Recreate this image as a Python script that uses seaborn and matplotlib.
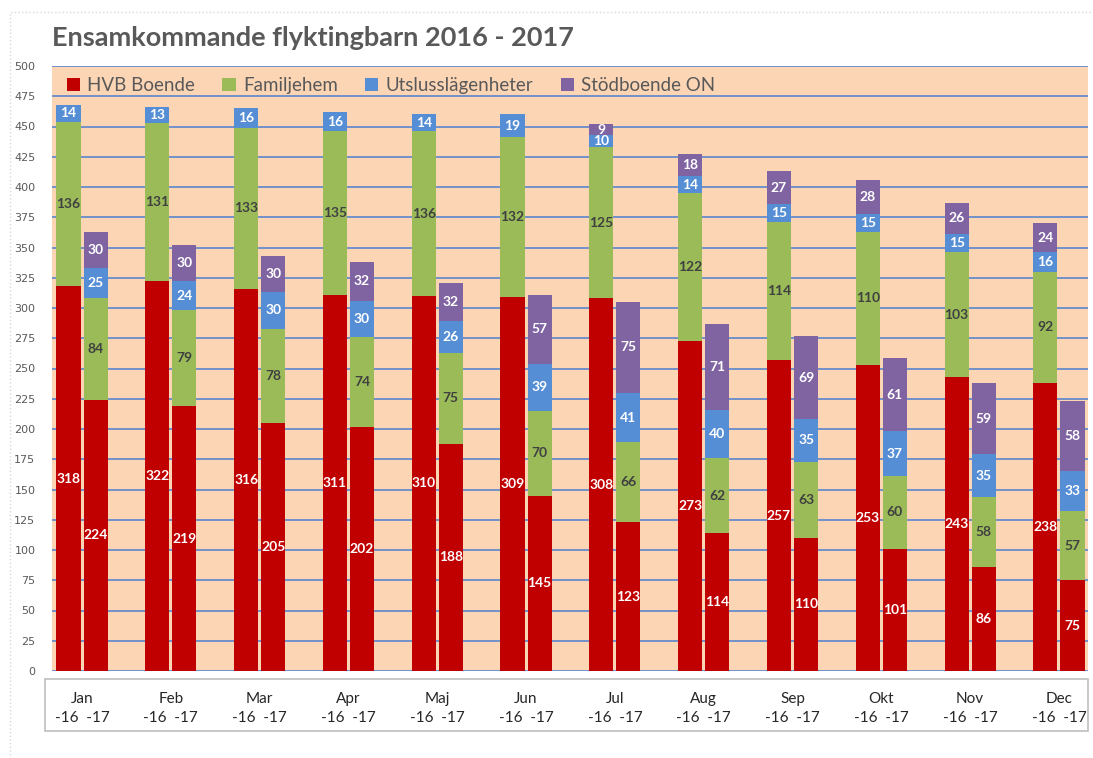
import numpy as np
import pandas as pd
import matplotlib
matplotlib.use("Agg")
import matplotlib.pyplot as plt
from matplotlib.patches import Patch, Rectangle
import seaborn as sns

# data
months = ["Jan", "Feb", "Mar", "Apr", "Maj", "Jun", "Jul", "Aug", "Sep", "Okt", "Nov", "Dec"]
years = ["-16", "-17"]
series = ["HVB Boende", "Familjehem", "Utslusslägenheter", "Stödboende ON"]

hvb_16 = [318, 322, 316, 311, 310, 309, 308, 273, 257, 253, 243, 238]
fam_16 = [136, 131, 133, 135, 136, 132, 125, 122, 114, 110, 103, 92]
uts_16 = [14, 13, 16, 16, 14, 19, 10, 14, 15, 15, 15, 16]
std_16 = [0, 0, 0, 0, 0, 0, 9, 18, 27, 28, 26, 24]

hvb_17 = [224, 219, 205, 202, 188, 145, 123, 114, 110, 101, 86, 75]
fam_17 = [84, 79, 78, 74, 75, 70, 66, 62, 63, 60, 58, 57]
uts_17 = [25, 24, 30, 30, 26, 39, 41, 40, 35, 37, 35, 33]
std_17 = [30, 30, 30, 32, 32, 57, 75, 71, 69, 61, 59, 58]

colors = ["#C00000", "#9BBB59", "#558ED5", "#8064A2"]
label_colors = ["white", "#404040", "white", "white"]

# long table
rows = []
for y, vals in zip(years, [[hvb_16, fam_16, uts_16, std_16], [hvb_17, fam_17, uts_17, std_17]]):
    for i, m in enumerate(months):
        row = {"month": m, "year": y}
        for s, v in zip(series, vals):
            row[s] = v[i]
        rows.append(row)
df = pd.DataFrame(rows)
cum = df[series].cumsum(axis=1)

fig = plt.figure(figsize=(10.93, 7.58), dpi=100)
ax = fig.add_axes([52 / 1093, 1 - 671 / 758, (1088 - 52) / 1093, (671 - 66) / 758])
ax.set_facecolor("#FCD5B5")

# stacked: draw cumulative totals from top layer down
for k in range(3, -1, -1):
    d = df[["month", "year"]].copy()
    d["v"] = cum[series[k]]
    sns.barplot(data=d, x="month", y="v", hue="year", order=months, hue_order=years,
                palette={y: colors[k] for y in years}, width=0.61, gap=0.11,
                legend=False, ax=ax, saturation=1, zorder=3)

# bar centres from the HVB layer containers
centres = {}
for j, y in enumerate(years):
    cont = ax.containers[-2 + j]
    centres[y] = [p.get_x() + p.get_width() / 2 for p in cont.patches]

for idx, r in df.iterrows():
    i = months.index(r["month"])
    x = centres[r["year"]][i]
    bottom = 0
    for k, s in enumerate(series):
        v = r[s]
        if v > 0:
            ax.text(x, bottom + v / 2, str(v), ha="center", va="center", fontsize=10,
                    fontweight="bold", color=label_colors[k], family="Lato", zorder=5)
        bottom += v

ax.set_ylim(0, 500)
ax.set_xlim(-0.338, 11.327)
ax.set_yticks(np.arange(0, 501, 25))
ax.yaxis.grid(True, color="#5B86CC", linewidth=1.2, zorder=1)
ax.set_axisbelow(True)
for sp in ax.spines.values():
    sp.set_visible(False)
ax.tick_params(axis="y", length=0, labelsize=8, labelcolor="#595959", pad=12)
ax.tick_params(axis="x", length=0, pad=15)
ax.set_xticks(range(len(months)))
ax.set_xticklabels([m + "\n-16  -17" for m in months], fontsize=11, color="#262626",
                   family="Lato", linespacing=1.45)
ax.set_xlabel("")
ax.set_ylabel("")

# legend
handles = [Patch(facecolor=c, edgecolor="none") for c in colors]
ax.legend(handles, series, loc="upper left", bbox_to_anchor=(-0.002, 1.01), ncol=4,
          frameon=False, handlelength=0.7, handleheight=0.7,
          handletextpad=0.4, columnspacing=1.45, labelcolor="#595959",
          prop={"family": "Lato", "size": 13.5})

# title
fig.text(52 / 1093, 1 - 38 / 758, "Ensamkommande flyktingbarn 2016 - 2017", fontsize=19.5,
         fontweight="bold", color="#595959", family="Lato", va="center", ha="left")

# borders
fig.patches.append(Rectangle((45 / 1093, 1 - 731 / 758), (1088 - 45) / 1093, 52 / 758,
                             transform=fig.transFigure, fill=False, edgecolor="#BFBFBF",
                             linewidth=1.2, zorder=0))
fig.patches.append(Rectangle((10 / 1093, 0), 1, 1 - 12 / 758,
                             transform=fig.transFigure, fill=False, edgecolor="#D9D9D9",
                             linewidth=1, linestyle=":", zorder=0))

fig.savefig("out.png", dpi=100)
